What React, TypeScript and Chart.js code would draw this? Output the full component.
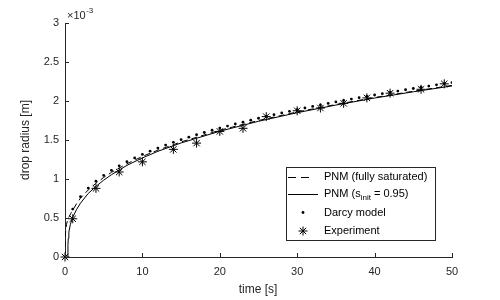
import React, { useEffect, useRef } from "react";
import { Chart, registerables } from "chart.js";

Chart.register(...registerables);

// PNM (fully saturated) – dashed line
const pnmSatTime = [0, 0.02, 0.05, 0.1, 0.2, 0.3, 0.5, 0.75, 1, 1.5, 2, 3, 4, 5, 6, 8, 10, 12, 15, 20, 25, 30, 35, 40, 45, 50];
const pnmSatRadius = [0, 0.00020, 0.00028, 0.00035, 0.00042, 0.00046, 0.00051, 0.00056, 0.000600, 0.000685, 0.000755, 0.000860, 0.000945, 0.001020, 0.001085, 0.001195, 0.001290, 0.001370, 0.001475, 0.001625, 0.001750, 0.001860, 0.001955, 0.002045, 0.002125, 0.002200];

// PNM (s_init = 0.95) – solid line
const pnmInitTime = [0.35, 0.38, 0.42, 0.5, 0.7, 1, 1.5, 2, 3, 4, 5, 6, 8, 10, 12, 15, 20, 25, 30, 35, 40, 45, 50];
const pnmInitRadius = [0, 0.00015, 0.00024, 0.00032, 0.00042, 0.000510, 0.000610, 0.000690, 0.000815, 0.000905, 0.000985, 0.001055, 0.001175, 0.001270, 0.001355, 0.001462, 0.001612, 0.001740, 0.001850, 0.001948, 0.002038, 0.002118, 0.002193];

// Darcy model – dots
const darcyTime = [1, 2, 3, 4, 5, 6, 7, 8, 9, 10, 11, 12, 13, 14, 15, 16, 17, 18, 19, 20, 21, 22, 23, 24, 25, 26, 27, 28, 29, 30, 31, 32, 33, 34, 35, 36, 37, 38, 39, 40, 41, 42, 43, 44, 45, 46, 47, 48, 49, 50];
const darcyRadius = [0.000615, 0.000773, 0.000884, 0.000972, 0.001046, 0.001111, 0.001169, 0.001222, 0.001270, 0.001315, 0.001357, 0.001397, 0.001435, 0.001470, 0.001504, 0.001536, 0.001567, 0.001596, 0.001625, 0.001653, 0.001679, 0.001705, 0.001729, 0.001754, 0.001779, 0.001802, 0.001825, 0.001847, 0.001868, 0.001889, 0.001910, 0.001930, 0.001950, 0.001969, 0.001988, 0.002007, 0.002025, 0.002042, 0.002060, 0.002077, 0.002094, 0.002111, 0.002127, 0.002144, 0.002160, 0.002176, 0.002191, 0.002207, 0.002221, 0.002236];

// Experiment – asterisks
const expTime = [0, 1, 4, 7, 10, 14, 17, 20, 23, 26, 30, 33, 36, 39, 42, 46, 49];
const expRadius = [0, 0.00049, 0.00088, 0.00109, 0.00122, 0.00138, 0.00146, 0.00161, 0.00165, 0.00180, 0.001875, 0.00191, 0.00197, 0.00204, 0.00210, 0.00215, 0.00222];

const xTicks = [0, 10, 20, 30, 40, 50];
const yTicks = [0, 0.0005, 0.001, 0.0015, 0.002, 0.0025, 0.003];

const FONT = "'Liberation Sans', Arial, Helvetica, sans-serif";
const AXIS = "#262626";

const pts = (xs: number[], ys: number[]) => xs.map((x, i) => ({ x, y: ys[i] }));

const decorPlugin = {
  id: "decor",
  afterDraw(chart: any) {
    const ctx = chart.ctx as CanvasRenderingContext2D;
    const xs = chart.scales.x;
    const ys = chart.scales.y;
    const { left, bottom } = chart.chartArea;
    ctx.save();
    // inner tick marks
    ctx.strokeStyle = AXIS;
    ctx.lineWidth = 1;
    ctx.beginPath();
    xTicks.forEach((t) => {
      const px = Math.round(xs.getPixelForValue(t)) + 0.5;
      ctx.moveTo(px, bottom);
      ctx.lineTo(px, bottom - 4);
    });
    yTicks.forEach((t) => {
      const py = Math.round(ys.getPixelForValue(t)) + 0.5;
      ctx.moveTo(left, py);
      ctx.lineTo(left + 4, py);
    });
    ctx.stroke();

    // exponent label
    ctx.fillStyle = AXIS;
    ctx.textBaseline = "alphabetic";
    ctx.textAlign = "left";
    ctx.font = `11px ${FONT}`;
    ctx.fillText("\u00d710", 67, 19);
    const w10 = ctx.measureText("\u00d710").width;
    ctx.font = `8px ${FONT}`;
    ctx.fillText("-3", 67 + w10 + 0.5, 13);

    // axis titles
    ctx.font = `12px ${FONT}`;
    ctx.textAlign = "center";
    ctx.textBaseline = "middle";
    ctx.fillText("time [s]", 258, 290);
    ctx.save();
    ctx.translate(26, 140);
    ctx.rotate(-Math.PI / 2);
    ctx.fillText("drop radius [m]", 0, 0);
    ctx.restore();

    // legend
    const bx = 286.5, by = 167.5, bw = 149, bh = 73;
    ctx.fillStyle = "#ffffff";
    ctx.fillRect(bx, by, bw, bh);
    ctx.strokeStyle = AXIS;
    ctx.strokeRect(bx, by, bw, bh);

    const rows = [177, 194, 212.5, 231];
    ctx.strokeStyle = "#000";
    ctx.lineWidth = 1;
    // dashed
    ctx.setLineDash([8, 5]);
    ctx.beginPath();
    ctx.moveTo(288, rows[0] + 0.5);
    ctx.lineTo(310, rows[0] + 0.5);
    ctx.stroke();
    ctx.setLineDash([]);
    // solid
    ctx.beginPath();
    ctx.moveTo(288, rows[1] + 0.5);
    ctx.lineTo(318, rows[1] + 0.5);
    ctx.stroke();
    // dot
    ctx.fillStyle = "#000";
    ctx.beginPath();
    ctx.arc(303, rows[2], 1.4, 0, Math.PI * 2);
    ctx.fill();
    // star
    const sx = 303, sy = rows[3], r = 4.5;
    ctx.beginPath();
    ctx.moveTo(sx - r, sy); ctx.lineTo(sx + r, sy);
    ctx.moveTo(sx, sy - r); ctx.lineTo(sx, sy + r);
    const d = r * Math.SQRT1_2;
    ctx.moveTo(sx - d, sy - d); ctx.lineTo(sx + d, sy + d);
    ctx.moveTo(sx - d, sy + d); ctx.lineTo(sx + d, sy - d);
    ctx.stroke();

    // legend texts
    ctx.fillStyle = "#000";
    ctx.textAlign = "left";
    ctx.textBaseline = "middle";
    ctx.font = `11px ${FONT}`;
    const tx = 324;
    ctx.fillText("PNM (fully saturated)", tx, rows[0]);
    ctx.fillText("PNM (s", tx, rows[1]);
    let cx = tx + ctx.measureText("PNM (s").width;
    ctx.font = `8px ${FONT}`;
    ctx.fillText("init", cx, rows[1] + 4);
    cx += ctx.measureText("init").width;
    ctx.font = `11px ${FONT}`;
    ctx.fillText(" = 0.95)", cx, rows[1]);
    ctx.fillText("Darcy model", tx, rows[2]);
    ctx.fillText("Experiment", tx, rows[3]);
    ctx.restore();
  },
};

export default function App() {
  const ref = useRef<HTMLCanvasElement | null>(null);
  useEffect(() => {
    document.body.style.margin = "0";
    const canvas = ref.current!;
    const chart = new Chart(canvas, {
      type: "scatter",
      data: {
        datasets: [
          {
            label: "PNM (fully saturated)",
            data: pts(pnmSatTime, pnmSatRadius),
            showLine: true,
            borderColor: "#000",
            borderWidth: 1,
            borderDash: [6, 4],
            pointRadius: 0,
            tension: 0,
          },
          {
            label: "PNM (s_init = 0.95)",
            data: pts(pnmInitTime, pnmInitRadius),
            showLine: true,
            borderColor: "#000",
            borderWidth: 1,
            pointRadius: 0,
            tension: 0,
          },
          {
            label: "Darcy model",
            data: pts(darcyTime, darcyRadius),
            showLine: false,
            pointRadius: 1.4,
            pointBackgroundColor: "#000",
            pointBorderWidth: 0,
            borderColor: "#000",
          },
          {
            label: "Experiment",
            data: pts(expTime, expRadius),
            showLine: false,
            pointStyle: "star",
            pointRadius: 4.5,
            pointBorderColor: "#000",
            pointBorderWidth: 1,
            pointBackgroundColor: "#000",
            clip: false,
          } as any,
        ],
      },
      options: {
        responsive: false,
        animation: false,
        events: [],
        layout: { padding: { top: 23, right: 48, left: 0, bottom: 0 } },
        plugins: { legend: { display: false }, tooltip: { enabled: false } },
        scales: {
          x: {
            type: "linear",
            min: 0,
            max: 50,
            afterBuildTicks: (s: any) => {
              s.ticks = xTicks.map((v) => ({ value: v }));
            },
            afterFit: (s: any) => {
              s.height = 43;
            },
            grid: { display: false, drawTicks: false },
            border: { display: true, color: AXIS, width: 1 },
            ticks: {
              color: AXIS,
              padding: 8,
              maxRotation: 0,
              font: { family: FONT, size: 11 },
              callback: (v: any) => String(v),
            },
          },
          y: {
            type: "linear",
            min: 0,
            max: 0.003,
            afterBuildTicks: (s: any) => {
              s.ticks = yTicks.map((v) => ({ value: v }));
            },
            afterFit: (s: any) => {
              s.width = 65;
            },
            grid: { display: false, drawTicks: false },
            border: { display: true, color: AXIS, width: 1 },
            ticks: {
              color: AXIS,
              padding: 6,
              font: { family: FONT, size: 11 },
              callback: (v: any) => String(+(Number(v) * 1000).toFixed(1)),
            },
          },
        },
      },
      plugins: [decorPlugin],
    });
    return () => chart.destroy();
  }, []);
  return (
    <div style={{ position: "absolute", left: 0, top: 0, width: 500, height: 300, background: "#fff" }}>
      <canvas ref={ref} width={500} height={300} style={{ width: 500, height: 300 }} />
    </div>
  );
}
